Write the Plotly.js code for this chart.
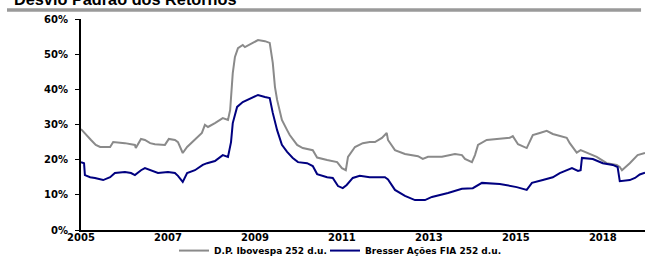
<!DOCTYPE html>
<html>
<head>
<meta charset="utf-8">
<script src="https://cdn.plot.ly/plotly-3.0.1.min.js"></script>
<style>
  html, body { margin: 0; padding: 0; background: #ffffff; }
  #chart { width: 645px; height: 257px; }
</style>
</head>
<body>
<div id="chart"></div>
<script>
// x values: position along the chart's (evenly labelled) time axis, in axis units
const ibovX = [2005.00,2005.09,2005.23,2005.34,2005.44,2005.67,2005.74,2006.01,2006.24,2006.26,2006.38,2006.47,2006.59,2006.70,2006.93,2007.02,2007.16,2007.23,2007.34,2007.44,2007.62,2007.78,2007.85,2007.92,2008.08,2008.26,2008.38,2008.43,2008.49,2008.54,2008.61,2008.72,2008.77,2008.93,2009.07,2009.23,2009.34,2009.41,2009.46,2009.51,2009.57,2009.62,2009.74,2009.80,2009.97,2010.10,2010.33,2010.43,2010.66,2010.89,2011.00,2011.09,2011.14,2011.30,2011.48,2011.64,2011.76,2011.92,2012.03,2012.06,2012.22,2012.45,2012.75,2012.86,2012.98,2013.30,2013.60,2013.76,2013.83,2013.99,2014.06,2014.13,2014.33,2014.63,2014.86,2014.93,2015.05,2015.25,2015.39,2015.55,2015.71,2015.85,2016.01,2016.17,2016.24,2016.40,2016.49,2016.63,2016.86,2017.09,2017.32,2017.39,2017.44,2017.62,2017.80,2017.97];
const ibovY = [28.7,27.6,25.6,24.2,23.6,23.6,25.0,24.7,24.2,23.3,25.9,25.6,24.7,24.4,24.2,25.9,25.6,25.0,21.9,23.6,25.6,27.6,29.9,29.3,30.4,31.8,31.3,34.1,44.6,49.2,51.7,52.6,52.0,53.2,54.0,53.7,53.2,47.5,40.7,37.0,33.3,31.3,28.4,27.0,24.2,23.3,22.7,20.6,19.9,19.3,17.6,17.0,20.8,23.6,24.7,25.0,25.0,26.2,27.6,25.6,22.7,21.6,21.0,20.2,20.8,20.8,21.6,21.3,20.2,19.3,21.3,24.2,25.6,25.9,26.2,26.7,24.4,23.3,27.0,27.6,28.2,27.3,26.7,26.2,24.7,22.0,22.7,21.9,20.8,19.0,18.5,17.9,17.0,19.0,21.3,21.9];

const fundX = [2005.00,2005.07,2005.09,2005.21,2005.32,2005.51,2005.67,2005.78,2006.01,2006.15,2006.24,2006.38,2006.47,2006.59,2006.77,2007.00,2007.16,2007.23,2007.34,2007.44,2007.62,2007.80,2007.90,2008.08,2008.26,2008.38,2008.45,2008.49,2008.59,2008.72,2008.93,2009.07,2009.23,2009.34,2009.41,2009.51,2009.62,2009.74,2009.87,2009.99,2010.20,2010.33,2010.43,2010.66,2010.79,2010.91,2011.02,2011.11,2011.25,2011.41,2011.64,2011.99,2012.06,2012.22,2012.45,2012.68,2012.91,2013.07,2013.44,2013.76,2014.01,2014.22,2014.63,2015.02,2015.25,2015.37,2015.62,2015.85,2016.01,2016.08,2016.29,2016.43,2016.49,2016.52,2016.77,2017.00,2017.23,2017.34,2017.39,2017.62,2017.74,2017.85,2017.97];
const fundY = [19.3,19.0,15.6,15.0,14.8,14.2,15.0,16.2,16.5,16.2,15.6,17.0,17.6,17.0,16.2,16.5,16.2,15.4,13.7,16.2,17.0,18.5,19.0,19.6,21.3,20.8,25.0,30.4,35.0,36.4,37.5,38.4,37.8,37.5,33.3,28.4,24.2,22.2,20.5,19.3,19.0,18.2,15.9,15.0,14.8,12.5,11.9,12.8,14.8,15.4,15.0,15.0,14.4,11.4,9.7,8.5,8.5,9.4,10.5,11.7,11.9,13.4,13.1,12.2,11.4,13.4,14.2,15.0,16.2,16.5,17.6,16.8,17.0,20.5,20.2,19.0,18.5,17.9,13.9,14.2,14.8,15.8,16.3];

const seriesNames = ["D.P. Ibovespa 252 d.u.", "Bresser Ações FIA 252 d.u."];
const xTickVals = [2005, 2007, 2009, 2011, 2013, 2015, 2017];
const xTickText = ["2005", "2007", "2009", "2011", "2013", "2015", "2018"];
const yTickVals = [0, 10, 20, 30, 40, 50, 60];
const yTickText = ["0%", "10%", "20%", "30%", "40%", "50%", "60%"];
const chartTitle = "Desvio Padrão dos Retornos";

const traces = [
  { x: ibovX, y: ibovY, name: seriesNames[0], type: "scatter", mode: "lines",
    legend: "legend", line: { color: "#8a8a8a", width: 2 } },
  { x: fundX, y: fundY, name: seriesNames[1], type: "scatter", mode: "lines",
    legend: "legend2", line: { color: "#000080", width: 2 } }
];

const legendFont = { family: "DejaVu Sans, Verdana, sans-serif", size: 9, weight: "bold", color: "#000000" };
const legendBase = {
  orientation: "h", xanchor: "left", xref: "paper",
  y: 0.025, yanchor: "middle", yref: "container",
  font: legendFont, bgcolor: "rgba(0,0,0,0)", borderwidth: 0, itemwidth: 30
};

const layout = {
  width: 645, height: 257,
  margin: { l: 81, r: 0, t: 19, b: 27, pad: 0 },
  paper_bgcolor: "#ffffff", plot_bgcolor: "#ffffff",
  showlegend: true,
  xaxis: {
    range: [2005, 2017.97],
    tickvals: xTickVals, ticktext: xTickText,
    showgrid: false, zeroline: false,
    showline: true, linecolor: "#000000", linewidth: 2,
    ticks: "", ticklen: 0,
    ticklabelstandoff: -3,
    tickfont: { family: "DejaVu Sans, Verdana, sans-serif", size: 10, weight: "bold", color: "#000000" },
    fixedrange: true
  },
  yaxis: {
    range: [0, 60],
    tickvals: yTickVals, ticktext: yTickText,
    showgrid: false, zeroline: false,
    showline: true, linecolor: "#000000", linewidth: 2,
    ticks: "outside", ticklen: 4, tickwidth: 1, tickcolor: "#000000",
    ticklabelstandoff: 5,
    tickfont: { family: "DejaVu Sans, Verdana, sans-serif", size: 10, weight: "bold", color: "#000000" },
    fixedrange: true
  },
  legend: Object.assign({}, legendBase, { x: 0.1649 }),
  legend2: Object.assign({}, legendBase, { x: 0.4326 }),
  annotations: [
    { text: chartTitle, xref: "paper", yref: "paper",
      x: (12 - 81) / 564, xanchor: "left", y: 1, yanchor: "middle", yshift: 20.5,
      showarrow: false,
      font: { family: "Liberation Sans, Arial, sans-serif", size: 16.3, weight: "bold", color: "#000000" } }
  ],
  shapes: [
    { type: "rect", xref: "paper", yref: "paper",
      x0: -0.1312, x1: 0.993, y0: 1.0346, y1: 1.0507,
      fillcolor: "#9a9a9a", line: { width: 0 }, layer: "above" }
  ]
};

Plotly.newPlot("chart", traces, layout, { staticPlot: true, displayModeBar: false });
</script>
</body>
</html>
